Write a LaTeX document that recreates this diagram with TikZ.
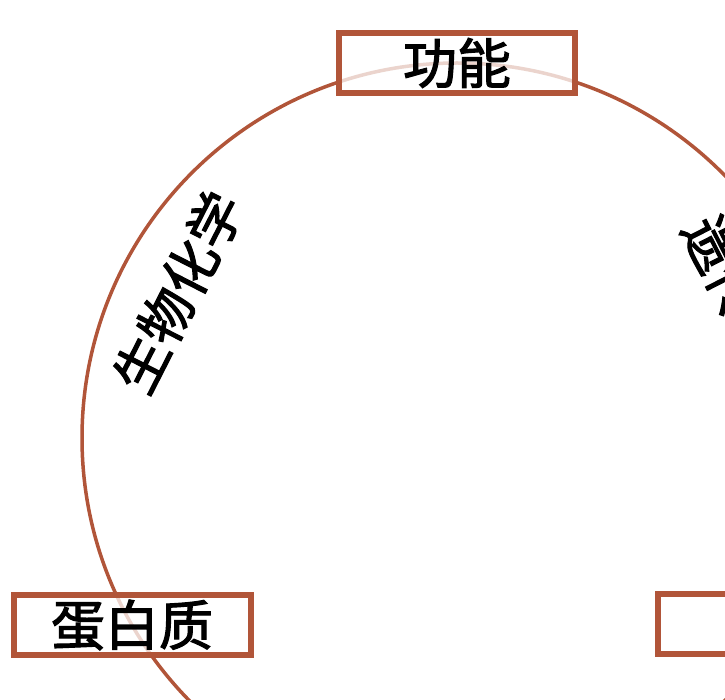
\documentclass[tikz,border=0pt]{standalone}
\usepackage{fontspec}
\setmainfont{Noto Sans CJK SC}[FakeBold=2]
\usetikzlibrary{calc}
\definecolor{rust}{RGB}{177,85,57}
\begin{document}
\begin{tikzpicture}[x=1pt,y=-1pt,
  box/.style={draw=rust, line width=6pt, fill=white, fill opacity=0.75, text opacity=1,
    minimum height=60pt, inner sep=0pt, font=\fontsize{54}{60}\selectfont},
  arclabel/.style={font=\fontsize{54}{60}\selectfont, inner sep=0pt}]
\useasboundingbox (0,0) rectangle (725,700);
\clip (0,0) rectangle (725,700);
\coordinate (c) at (457,438);
\draw[rust, line width=3.5pt] (c) circle[radius=375pt];
\node[box, minimum width=236pt] (fn) at (457,63) {功能};
\node[box, minimum width=237pt] (prot) at (132,625) {蛋白质};
\node[box, minimum width=250pt] (gene) at (782.5,623.5) {};
\node[arclabel, rotate=63] (bio) at ($(c)+(152.4:315pt)$) {生物化学};
\node[arclabel, rotate=-63] (gen) at ($(c)+(27.6:315pt)$) {遗传学};
\end{tikzpicture}
\end{document}
